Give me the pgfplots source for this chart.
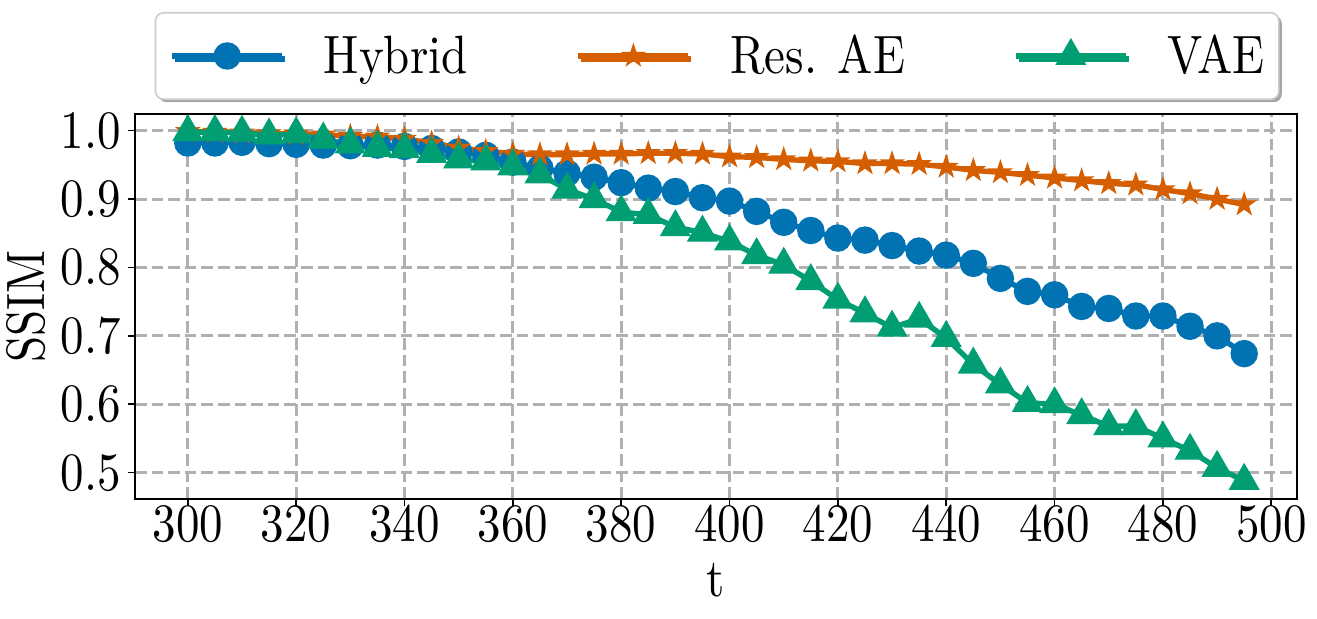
\documentclass[border=0pt]{standalone}
\usepackage{fontspec}
\setmainfont{lmroman10-regular.otf}
\usepackage{graphicx}
\usepackage{pgfplots}
\pgfplotsset{compat=1.18}
\usetikzlibrary{shadows}
\definecolor{cblue}{RGB}{1,115,178}
\definecolor{corange}{RGB}{213,94,0}
\definecolor{cgreen}{RGB}{2,158,115}
\definecolor{cgrid}{RGB}{176,176,176}
\definecolor{cleg}{RGB}{204,204,204}
\newcommand{\sx}[1]{\scalebox{0.87}[1]{#1}}
\pgfdeclareplotmark{fstar}{%
  \pgfpathmoveto{\pgfpointpolar{90}{\pgfplotmarksize}}%
  \pgfpathlineto{\pgfpointpolar{126}{0.382\pgfplotmarksize}}%
  \pgfpathlineto{\pgfpointpolar{162}{\pgfplotmarksize}}%
  \pgfpathlineto{\pgfpointpolar{198}{0.382\pgfplotmarksize}}%
  \pgfpathlineto{\pgfpointpolar{234}{\pgfplotmarksize}}%
  \pgfpathlineto{\pgfpointpolar{270}{0.382\pgfplotmarksize}}%
  \pgfpathlineto{\pgfpointpolar{306}{\pgfplotmarksize}}%
  \pgfpathlineto{\pgfpointpolar{342}{0.382\pgfplotmarksize}}%
  \pgfpathlineto{\pgfpointpolar{18}{\pgfplotmarksize}}%
  \pgfpathlineto{\pgfpointpolar{54}{0.382\pgfplotmarksize}}%
  \pgfpathclose
  \pgfusepathqfillstroke
}
\begin{document}
\begin{tikzpicture}
\begin{axis}[
  scale only axis,
  width=581pt, height=192.5pt,
  xmin=290.25, xmax=504.75,
  ymin=0.4614, ymax=1.0244,
  xtick={300,320,...,500},
  ytick={0.5,0.6,0.7,0.8,0.9,1.0},
  /pgf/number format/assume math mode=true,
  xticklabel={\sx{\pgfmathprintnumber{\tick}}},
  yticklabel={\sx{\pgfmathprintnumber[fixed,fixed zerofill,precision=1]{\tick}}},
  ticklabel style={font=\fontsize{27}{32}\selectfont},
  xticklabel style={yshift=4pt},
  xtick pos=left, ytick pos=left,
  tick align=outside,
  major tick length=3.5pt,
  tick style={black, line width=0.8pt},
  axis line style={line width=0.8pt},
  grid=major,
  major grid style={dash pattern=on 5.8pt off 2.5pt, line width=1.5pt, color=cgrid},
  xlabel={\sx{t}},
  ylabel={\sx{SSIM}},
  label style={font=\fontsize{27}{32}\selectfont},
  xlabel style={at={(axis description cs:0.5,-0.2545)}, anchor=base},
  ylabel style={at={(axis description cs:-0.0775,0.5)}, anchor=base},
  legend columns=3,
  legend image code/.code={\draw[#1,mark repeat=2,mark phase=2] plot coordinates {(0pt,0pt) (27.5pt,0pt) (55pt,0pt)};},
  legend style={
    at={(0.501,1)}, anchor=south, yshift=7pt,
    font=\fontsize{27}{32}\selectfont,
    draw=cleg, line width=0.8pt, rounded corners=4pt,
    fill=white,
    drop shadow={shadow xshift=1.5pt, shadow yshift=-1.5pt, fill=gray!70, opacity=1},
    inner xsep=7pt, inner ysep=11.2pt,
    nodes={inner sep=0pt},
    /tikz/every odd column/.append style={column sep=19.5pt},
    /tikz/every even column/.append style={column sep=54pt},
  },
  legend cell align=left,
]
\addplot[cblue, line width=2.7pt, mark=*, mark size=5.5pt, mark options={solid, fill=cblue}] coordinates {
(300,0.982) (305,0.982) (310,0.983) (315,0.981) (320,0.980) (325,0.979) (330,0.978) (335,0.979)
(340,0.977) (345,0.974) (350,0.969) (355,0.964) (360,0.954) (365,0.945) (370,0.938) (375,0.932)
(380,0.924) (385,0.916) (390,0.911) (395,0.902) (400,0.897) (405,0.882) (410,0.866) (415,0.854)
(420,0.843) (425,0.840) (430,0.832) (435,0.824) (440,0.818) (445,0.806) (450,0.784) (455,0.765)
(460,0.760) (465,0.743) (470,0.740) (475,0.729) (480,0.729) (485,0.714) (490,0.700) (495,0.674)
};
\addlegendentry{\sx{Hybrid}}
\addplot[corange, line width=2.7pt, mark=fstar, mark size=5.4pt, mark options={solid, fill=corange, line width=0.8pt}] coordinates {
(300,0.999) (305,0.998) (310,0.997) (315,0.996) (320,0.995) (325,0.994) (330,0.992) (335,0.991)
(340,0.988) (345,0.982) (350,0.975) (355,0.970) (360,0.966) (365,0.965) (370,0.965) (375,0.966)
(380,0.966) (385,0.967) (390,0.967) (395,0.966) (400,0.962) (405,0.961) (410,0.958) (415,0.956)
(420,0.955) (425,0.952) (430,0.952) (435,0.951) (440,0.947) (445,0.942) (450,0.939) (455,0.935)
(460,0.931) (465,0.927) (470,0.923) (475,0.921) (480,0.914) (485,0.908) (490,0.900) (495,0.892)
};
\addlegendentry{\sx{Res. AE}}
\addplot[cgreen, line width=2.7pt, mark=triangle*, mark size=6.3pt, mark options={solid, fill=cgreen}] coordinates {
(300,0.998) (305,0.998) (310,0.997) (315,0.993) (320,0.995) (325,0.987) (330,0.980) (335,0.975)
(340,0.973) (345,0.966) (350,0.958) (355,0.955) (360,0.948) (365,0.936) (370,0.914) (375,0.900)
(380,0.881) (385,0.877) (390,0.859) (395,0.851) (400,0.838) (405,0.818) (410,0.804) (415,0.780)
(420,0.753) (425,0.733) (430,0.712) (435,0.725) (440,0.697) (445,0.658) (450,0.629) (455,0.602)
(460,0.600) (465,0.584) (470,0.568) (475,0.568) (480,0.550) (485,0.532) (490,0.507) (495,0.488)
};
\addlegendentry{\sx{VAE}}
\end{axis}
\path[use as bounding box] (-67.5pt,-59.5pt) rectangle (591pt,249.5pt);
\end{tikzpicture}
\end{document}
